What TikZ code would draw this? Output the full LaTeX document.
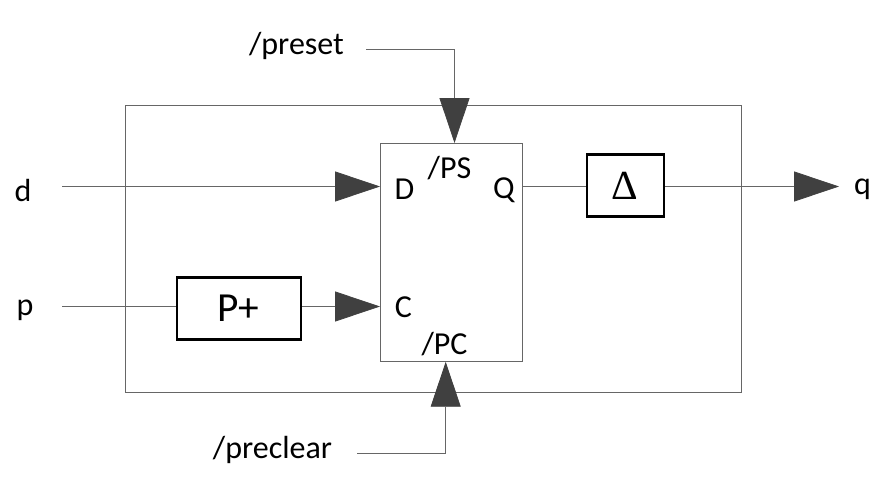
\documentclass[tikz,border=0pt]{standalone}
\usepackage{fontspec}
\setmainfont{Carlito}
\newfontfamily\symfont{Liberation Serif}
\usetikzlibrary{arrows.meta}
\definecolor{ln}{HTML}{666666}
\definecolor{hd}{HTML}{404040}
\tikzset{
 wire/.style={draw=ln,line width=0.6pt},
 arr/.style={wire,-{Triangle[length=33.7pt,width=22.5pt,color=hd]}},
 blk/.style={draw=black,line width=1.9pt,fill=white,inner sep=0,anchor=north west},
 thinbox/.style={draw=ln,line width=0.6pt,inner sep=0,anchor=north west},
 lab/.style={inner sep=0,font=\fontsize{24}{26}\selectfont,text=black},
 big/.style={inner sep=0,font=\fontsize{31}{33}\selectfont,text=black}
}
\begin{document}
\begin{tikzpicture}[x=0.75pt,y=-0.75pt]
\useasboundingbox (0,0) rectangle (896,482);
\node[thinbox,minimum width=616*0.75pt,minimum height=287*0.75pt] (outer) at (124.5,105) {};
\node[thinbox,minimum width=142*0.75pt,minimum height=218*0.75pt] (ff) at (380,143) {};
\node[blk,minimum width=124*0.75pt,minimum height=62*0.75pt] (pp) at (175.5,276) {};
\node[blk,minimum width=77*0.75pt,minimum height=62*0.75pt] (dl) at (585.5,153) {};
\node[big] (pt) at (238,308.5) {P+};
\node[big] (dt) at (624.5,186) {\symfont Δ};
\node[lab] (d) at (23,190.5) {d};
\node[lab] (p) at (25,310) {p};
\node[lab] (q) at (862.5,189) {q};
\node[lab] (preset) at (296.5,46) {/preset};
\node[lab] (preclear) at (272.5,450) {/preclear};
\node[lab] (D) at (404.5,189.5) {D};
\node[lab] (C) at (403.5,307.5) {C};
\node[lab] (Q) at (504,190) {Q};
\node[lab] (PS) at (449.5,168) {/PS};
\node[lab] (PC) at (444.5,344) {/PC};
\coordinate (dS) at (62,186.5);
\coordinate (pS) at (62,306.5);
\coordinate (qE) at (839,186.5);
\coordinate (psS) at (366,49);
\coordinate (psC) at (454.5,49);
\coordinate (pcS) at (357,453.5);
\coordinate (pcC) at (445.7,453.5);
\draw[arr] (dS) -- (ff.west |- dS);
\draw[wire] (pS) -- (pp.west |- pS);
\draw[arr] (pp.east |- pS) -- (ff.west |- pS);
\draw[wire] (ff.east |- dS) -- (dl.west |- dS);
\draw[arr] (dl.east |- dS) -- (qE);
\draw[arr] (psS) -- (psC) -- (psC |- ff.north);
\draw[arr] (pcS) -- (pcC) -- (pcC |- ff.south);
\end{tikzpicture}
\end{document}
